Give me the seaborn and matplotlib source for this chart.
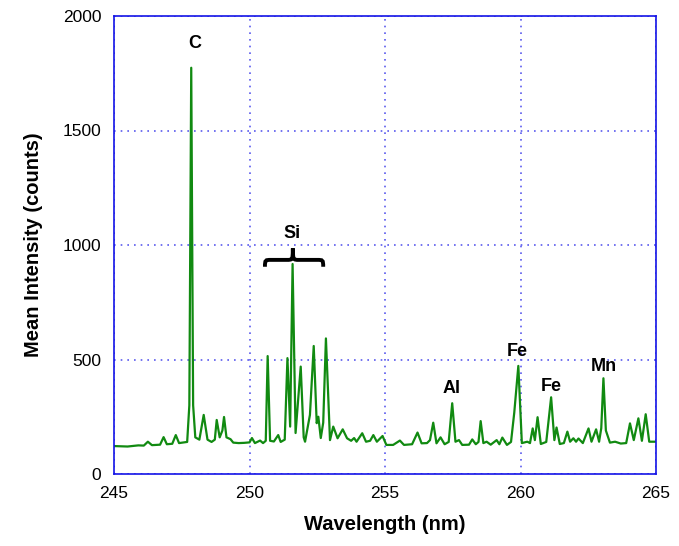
import numpy as np
import pandas as pd
import matplotlib
matplotlib.use("Agg")
import matplotlib.pyplot as plt
import seaborn as sns
from matplotlib.path import Path
from matplotlib.patches import PathPatch

# ---- data ----
wavelength = [
    245.00, 245.50, 245.90, 246.10, 246.25, 246.40, 246.70, 246.83, 246.95, 247.15,
    247.28, 247.40, 247.70, 247.78, 247.85, 247.92, 248.00, 248.15, 248.31, 248.45,
    248.60, 248.72, 248.79, 248.90, 249.00, 249.06, 249.15, 249.30, 249.40, 249.60,
    249.80, 250.00, 250.09, 250.20, 250.39, 250.50, 250.60, 250.67, 250.76, 250.90,
    251.06, 251.15, 251.30, 251.40, 251.50, 251.59, 251.70, 251.89, 252.00, 252.05,
    252.23, 252.37, 252.48, 252.54, 252.63, 252.72, 252.82, 252.97, 253.09, 253.25,
    253.44, 253.60, 253.75, 253.86, 253.95, 254.16, 254.30, 254.45, 254.57, 254.70,
    254.91, 255.05, 255.30, 255.55, 255.70, 256.00, 256.20, 256.35, 256.55, 256.66,
    256.78, 256.90, 257.05, 257.20, 257.35, 257.48, 257.60, 257.73, 257.85, 258.10,
    258.22, 258.35, 258.45, 258.53, 258.63, 258.75, 258.90, 259.12, 259.22, 259.33,
    259.50, 259.65, 259.77, 259.92, 260.05, 260.25, 260.35, 260.45, 260.53, 260.63,
    260.75, 260.95, 261.13, 261.25, 261.33, 261.45, 261.60, 261.73, 261.83, 261.95,
    262.05, 262.14, 262.30, 262.51, 262.62, 262.79, 262.90, 262.98, 263.06, 263.15,
    263.30, 263.49, 263.70, 263.90, 264.04, 264.18, 264.35, 264.48, 264.62, 264.75,
    265.00,
]
intensity = [
    122, 120, 125, 124, 141, 126, 128, 161, 130, 132,
    170, 135, 140, 300, 1774, 300, 160, 150, 258, 150,
    140, 150, 236, 160, 190, 249, 160, 152, 137, 135,
    136, 138, 157, 135, 146, 135, 145, 515, 145, 142,
    170, 140, 150, 506, 207, 917, 179, 469, 160, 141,
    258, 559, 222, 250, 157, 224, 592, 148, 207, 156,
    195, 156, 145, 157, 141, 178, 141, 145, 170, 141,
    166, 127, 127, 146, 127, 130, 181, 134, 135, 148,
    224, 134, 160, 130, 140, 309, 141, 148, 127, 128,
    151, 130, 140, 231, 135, 141, 128, 148, 130, 159,
    127, 140, 268, 472, 135, 141, 135, 199, 148, 248,
    131, 140, 335, 148, 203, 131, 135, 185, 141, 156,
    141, 155, 135, 199, 141, 195, 141, 200, 418, 190,
    137, 141, 133, 135, 221, 148, 243, 145, 261, 141,
    141,
]

element_labels = ["C", "Si", "Al", "Fe", "Fe", "Mn"]
label_wl = [247.99, 251.57, 257.47, 259.87, 261.13, 263.08]
label_int = [1882, 1052, 375, 537, 384, 471]

x_ticks = [245, 250, 255, 260, 265]
y_ticks = [0, 500, 1000, 1500, 2000]

df = pd.DataFrame({"Wavelength (nm)": wavelength, "Mean Intensity (counts)": intensity})

sns.set_style("white")
plt.rcParams["font.family"] = ["Liberation Sans", "DejaVu Sans"]
plt.rcParams["text.color"] = "black"
plt.rcParams["axes.labelcolor"] = "black"

fig = plt.figure(figsize=(6.79, 5.46), dpi=100)
ax = fig.add_axes([114 / 679, 72 / 546, 542 / 679, 458 / 546])

sns.lineplot(data=df, x="Wavelength (nm)", y="Mean Intensity (counts)", ax=ax,
             color="#118a11", linewidth=1.6, estimator=None, sort=False)

ax.set_xlim(245, 265)
ax.set_ylim(0, 2000)
ax.set_xticks(x_ticks)
ax.set_yticks(y_ticks)
ax.tick_params(axis="both", length=0, labelsize=12.5, pad=9, colors="black")
ax.grid(True, color="#5a5aee", linestyle=(0, (1, 3)), linewidth=1.2)
for s in ax.spines.values():
    s.set_color("#1414e6")
    s.set_linewidth(1.2)
    s.set_visible(True)

ax.set_xlabel("Wavelength (nm)", fontsize=14.5, fontweight="bold", labelpad=10, color="black")
ax.set_ylabel("Mean Intensity (counts)", fontsize=14.5, fontweight="bold", labelpad=14, color="black")

for lab, xw, yi in zip(element_labels, label_wl, label_int):
    ax.text(xw, yi, lab, ha="center", va="center", fontsize=13, fontweight="bold", color="black")

# curly brace over the Si group
x0, x1 = 250.57, 252.72
xc = 251.60
yb, ym, yt = 905, 935, 985
d = 0.22
verts = [
    (x0, yb), (x0, ym), (x0 + 0.02, ym), (x0 + d, ym),
    (xc - d, ym),
    (xc - 0.02, ym), (xc, ym), (xc, yt),
    (xc, ym), (xc + 0.02, ym), (xc + d, ym),
    (x1 - d, ym),
    (x1 - 0.02, ym), (x1, ym), (x1, yb),
]
codes = [Path.MOVETO, Path.CURVE4, Path.CURVE4, Path.CURVE4,
         Path.LINETO,
         Path.CURVE4, Path.CURVE4, Path.CURVE4,
         Path.CURVE4, Path.CURVE4, Path.CURVE4,
         Path.LINETO,
         Path.CURVE4, Path.CURVE4, Path.CURVE4]
ax.add_patch(PathPatch(Path(verts, codes), facecolor="none", edgecolor="black", linewidth=2.8))

fig.savefig("out.png", dpi=100)
